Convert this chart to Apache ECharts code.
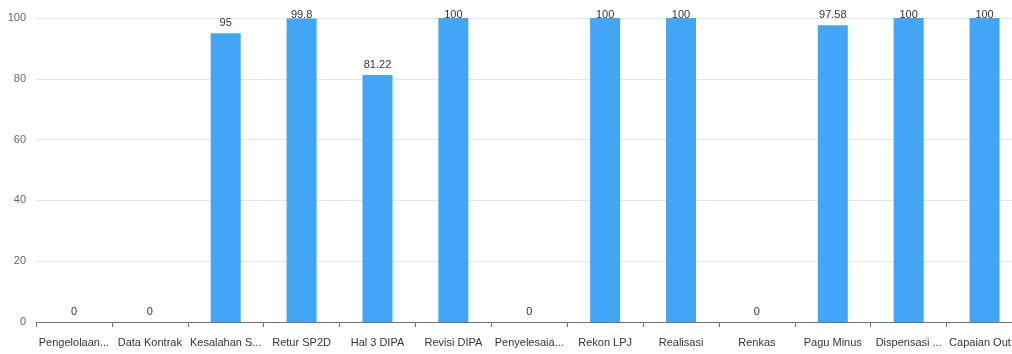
<!DOCTYPE html>
<html>
<head>
<meta charset="utf-8">
<script src="https://cdn.jsdelivr.net/npm/echarts@6/dist/echarts.min.js"></script>
<style>
  html, body { margin: 0; padding: 0; background: #fff; overflow: hidden; }
  #chart { width: 1023px; height: 354px; }
</style>
</head>
<body>
<div id="chart"></div>
<script>
const categories = [
  'Pengelolaan Kas', 'Data Kontrak', 'Kesalahan SPM', 'Retur SP2D', 'Hal 3 DIPA',
  'Revisi DIPA', 'Penyelesaian Tagihan', 'Rekon LPJ', 'Realisasi', 'Renkas',
  'Pagu Minus', 'Dispensasi SPM', 'Capaian Output'
];
const values = [0, 0, 95, 99.8, 81.22, 100, 0, 100, 100, 0, 97.58, 100, 100];
const yTicks = [0, 20, 40, 60, 80, 100];

const myChart = echarts.init(document.getElementById('chart'));
const option = {
  animation: false,
  textStyle: { fontFamily: 'Liberation Sans' },
  grid: {
    left: 36,
    right: 0,
    top: 18,
    bottom: 32,
    containLabel: false
  },
  xAxis: {
    type: 'category',
    data: categories,
    axisLine: { lineStyle: { color: '#6E7079' } },
    axisTick: { show: true, length: 5, lineStyle: { color: '#6E7079' } },
    axisLabel: {
      interval: 0,
      margin: 15,
      color: '#333',
      fontSize: 11,
      width: 76,
      overflow: 'truncate'
    }
  },
  yAxis: {
    type: 'value',
    min: yTicks[0],
    max: yTicks[yTicks.length - 1],
    interval: 20,
    axisLabel: { color: '#666', fontSize: 11, margin: 10 },
    splitLine: { lineStyle: { color: '#E3E6EC' } }
  },
  series: [
    {
      type: 'bar',
      data: values,
      barWidth: 30,
      itemStyle: { color: '#42A5F5' },
      label: {
        show: true,
        position: 'top',
        distance: 5,
        color: '#333',
        fontSize: 11
      }
    }
  ]
};
myChart.setOption(option);

// keep value labels inside the top edge (labels of full bars get pushed down)
const labelTopLimit = 9;
const labelHeight = 11;
const items = values.map((v, i) => {
  const y = myChart.convertToPixel({ gridIndex: 0 }, [i, v])[1];
  const d = Math.min(5, y - labelHeight - labelTopLimit);
  return { value: v, label: { distance: d } };
});
myChart.setOption({ series: [{ data: items }] });
</script>
</body>
</html>
